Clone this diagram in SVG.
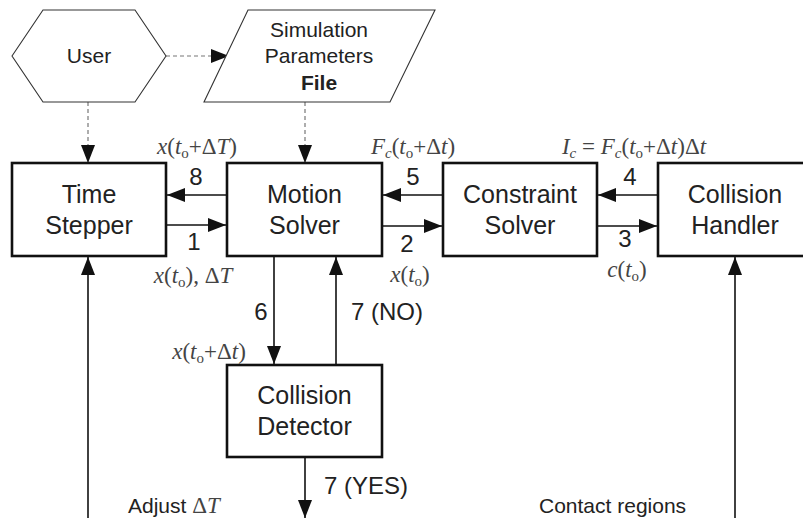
<svg xmlns="http://www.w3.org/2000/svg" width="803" height="518" viewBox="0 0 803 518">
<defs>
<marker id="ah" markerUnits="userSpaceOnUse" markerWidth="18" markerHeight="14" refX="18" refY="7" orient="auto">
<path d="M0,0 L18,7 L0,14 z" fill="#111"/>
</marker>
<style>
.box{fill:#fff;stroke:#111;stroke-width:2.6}
.thin{fill:#fff;stroke:#333;stroke-width:1.1}
.ln{fill:none;stroke:#111;stroke-width:1.6}
.dash{fill:none;stroke:#777;stroke-width:1.2;stroke-dasharray:4 3}
.nt{font-family:"Liberation Sans",Arial,sans-serif;font-size:25px;fill:#222;text-anchor:middle}
.tt{font-family:"Liberation Sans",Arial,sans-serif;font-size:21px;fill:#222;text-anchor:middle}
.num{font-family:"Liberation Sans",Arial,sans-serif;font-size:24px;fill:#222}
.lab{font-family:"Liberation Sans",Arial,sans-serif;font-size:21px;fill:#222}
.m{font-family:"Liberation Serif","Times New Roman",serif;font-size:23px;fill:#444;text-anchor:middle}
.i{font-style:italic}
.s{font-size:15px}
</style>
</defs>
<rect width="803" height="518" fill="#fff"/>

<g id="connectors">
<line class="dash" x1="166" y1="56" x2="229" y2="56" marker-end="url(#ah)"/>
<line class="dash" x1="88" y1="102" x2="88" y2="163" marker-end="url(#ah)"/>
<line class="dash" x1="305" y1="102" x2="305" y2="163" marker-end="url(#ah)"/>
<line class="ln" x1="227" y1="195" x2="167" y2="195" marker-end="url(#ah)"/>
<line class="ln" x1="166" y1="225" x2="226" y2="225" marker-end="url(#ah)"/>
<line class="ln" x1="443" y1="195" x2="383" y2="195" marker-end="url(#ah)"/>
<line class="ln" x1="382" y1="226" x2="442" y2="226" marker-end="url(#ah)"/>
<line class="ln" x1="658" y1="195" x2="598" y2="195" marker-end="url(#ah)"/>
<line class="ln" x1="597" y1="226" x2="657" y2="226" marker-end="url(#ah)"/>
<line class="ln" x1="274" y1="256" x2="274" y2="364" marker-end="url(#ah)"/>
<line class="ln" x1="336" y1="365" x2="336" y2="257" marker-end="url(#ah)"/>
<line class="ln" x1="305" y1="457" x2="305" y2="518" marker-end="url(#ah)"/>
<line class="ln" x1="88" y1="520" x2="88" y2="257" marker-end="url(#ah)"/>
<line class="ln" x1="735" y1="520" x2="735" y2="257" marker-end="url(#ah)"/>

<text class="num" x="196" y="185" text-anchor="middle">8</text>
<text class="num" x="194" y="250" text-anchor="middle">1</text>
<text class="num" x="413" y="185" text-anchor="middle">5</text>
<text class="num" x="407" y="252" text-anchor="middle">2</text>
<text class="num" x="630" y="185" text-anchor="middle">4</text>
<text class="num" x="625" y="247" text-anchor="middle">3</text>
<text class="num" x="261" y="320" text-anchor="middle">6</text>
<text class="num" x="351" y="320">7 (NO)</text>
<text class="num" x="324" y="494">7 (YES)</text>
<text class="lab" x="128" y="513">Adjust <tspan font-family="'Liberation Serif',serif" font-size="23px" fill="#444">Δ<tspan class="i">T</tspan></tspan></text>
<text class="lab" x="539" y="513">Contact regions</text>

<text class="m" x="197" y="154"><tspan class="i">x</tspan>(<tspan class="i">t</tspan><tspan class="s" dy="4">o</tspan><tspan dy="-4">+Δ</tspan><tspan class="i">T</tspan>)</text>
<text class="m" x="193" y="283"><tspan class="i">x</tspan>(<tspan class="i">t</tspan><tspan class="s" dy="4">o</tspan><tspan dy="-4">), Δ</tspan><tspan class="i">T</tspan></text>
<text class="m" x="413" y="154"><tspan class="i">F</tspan><tspan class="s i" dy="4">c</tspan><tspan dy="-4">(</tspan><tspan class="i">t</tspan><tspan class="s" dy="4">o</tspan><tspan dy="-4">+Δ</tspan><tspan class="i">t</tspan>)</text>
<text class="m" x="634" y="154"><tspan class="i">I</tspan><tspan class="s i" dy="4">c</tspan><tspan dy="-4"> = </tspan><tspan class="i">F</tspan><tspan class="s i" dy="4">c</tspan><tspan dy="-4">(</tspan><tspan class="i">t</tspan><tspan class="s" dy="4">o</tspan><tspan dy="-4">+Δ</tspan><tspan class="i">t</tspan>)Δ<tspan class="i">t</tspan></text>
<text class="m" x="410" y="282"><tspan class="i">x</tspan>(<tspan class="i">t</tspan><tspan class="s" dy="4">o</tspan><tspan dy="-4">)</tspan></text>
<text class="m" x="627" y="277"><tspan class="i">c</tspan>(<tspan class="i">t</tspan><tspan class="s" dy="4">o</tspan><tspan dy="-4">)</tspan></text>
<text class="m" x="209" y="359"><tspan class="i">x</tspan>(<tspan class="i">t</tspan><tspan class="s" dy="4">o</tspan><tspan dy="-4">+Δ</tspan><tspan class="i">t</tspan>)</text>
</g>

<g id="user">
<polygon class="thin" points="12,56 43,10 135,10 166,56 135,102 43,102"/>
<text class="tt" x="89" y="63">User</text>
</g>

<g id="params">
<polygon class="thin" points="248,10 435,10 390,102 204,102"/>
<text class="tt" x="319" y="37">Simulation</text>
<text class="tt" x="319" y="63">Parameters</text>
<text class="tt" x="319" y="90" font-weight="bold">File</text>
</g>

<g id="timestepper">
<rect class="box" x="12" y="163" width="154" height="93"/>
<text class="nt" x="89" y="203">Time</text>
<text class="nt" x="89" y="234">Stepper</text>
</g>

<g id="motionsolver">
<rect class="box" x="227" y="163" width="155" height="93"/>
<text class="nt" x="304.5" y="203">Motion</text>
<text class="nt" x="304.5" y="234">Solver</text>
</g>

<g id="constraintsolver">
<rect class="box" x="443" y="163" width="154" height="93"/>
<text class="nt" x="520" y="203">Constraint</text>
<text class="nt" x="520" y="234">Solver</text>
</g>

<g id="collisionhandler">
<rect class="box" x="658" y="163" width="160" height="93"/>
<text class="nt" x="735" y="203">Collision</text>
<text class="nt" x="735" y="234">Handler</text>
</g>

<g id="collisiondetector">
<rect class="box" x="227" y="365" width="155" height="92"/>
<text class="nt" x="304.5" y="404">Collision</text>
<text class="nt" x="304.5" y="435">Detector</text>
</g>
</svg>
